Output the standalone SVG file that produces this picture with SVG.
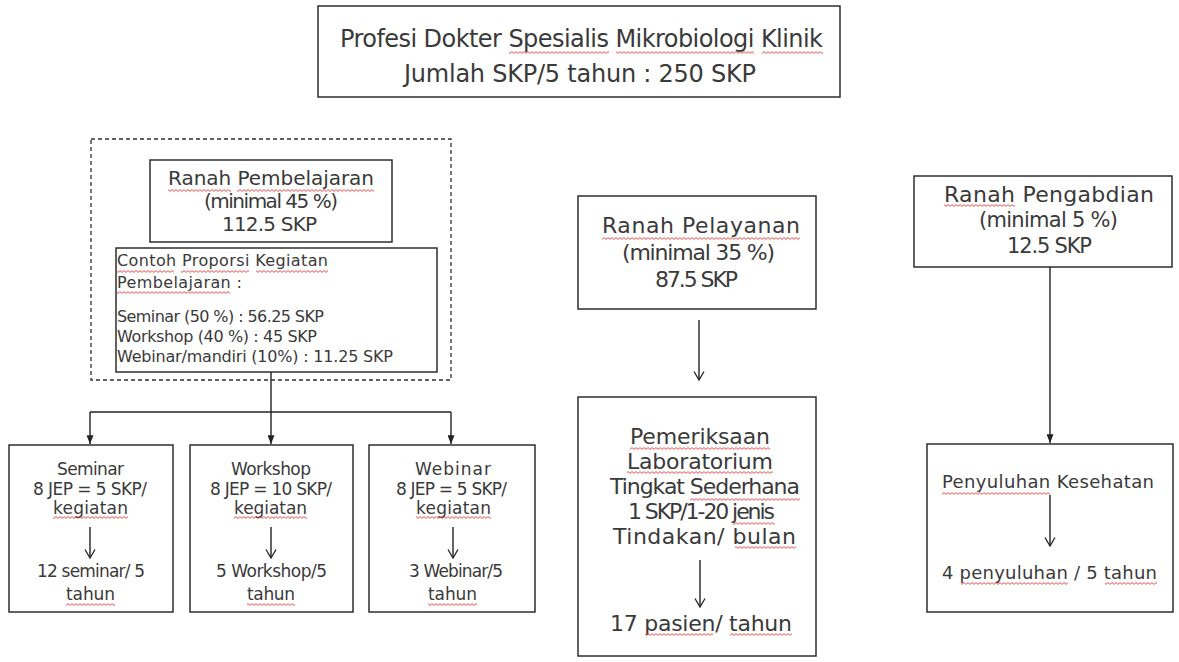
<svg xmlns="http://www.w3.org/2000/svg" width="1179" height="662" viewBox="0 0 1179 662">
<defs>
<style>
.t{font-family:"DejaVu Sans","Liberation Sans",sans-serif;fill:#3a3a3a}
.box{fill:#fff;stroke:#2e2e2e;stroke-width:1.5}
.dash{fill:none;stroke:#2e2e2e;stroke-width:1.3;stroke-dasharray:4 3}
.ln{fill:none;stroke:#222;stroke-width:1.4}
.sq{fill:url(#wv)}
.s24{font-size:24px}.s22{font-size:22px}.s21{font-size:21px}.s20{font-size:20px}.s18{font-size:18px}.s17{font-size:17px}.s16{font-size:16px}
</style>
<pattern id="wv" width="4" height="3" patternUnits="userSpaceOnUse"><path d="M0,0.6 L2,2.4 L4,0.6" fill="none" stroke="#e23a3a" stroke-width="0.9"/></pattern>
<marker id="af" viewBox="0 0 10 8" refX="10" refY="4" markerWidth="9" markerHeight="7" markerUnits="userSpaceOnUse" orient="auto"><path d="M0,0 L10,4 L0,8 z" fill="#222"/></marker>
<marker id="ao" viewBox="0 0 12 12" refX="10.5" refY="6" markerWidth="12" markerHeight="12" markerUnits="userSpaceOnUse" orient="auto"><path d="M2,1 L10.5,6 L2,11" fill="none" stroke="#222" stroke-width="1.3"/></marker>
</defs>
<rect width="1179" height="662" fill="#fff"/>

<g id="title">
<rect class="box" x="318" y="6" width="522" height="91"/>
<text class="t s24" x="340" y="47" textLength="483" lengthAdjust="spacing">Profesi Dokter Spesialis Mikrobiologi Klinik</text>
<text class="t s24" x="404" y="82" textLength="352" lengthAdjust="spacing">Jumlah SKP/5 tahun : 250 SKP</text>
<rect class="sq" x="509" y="51" width="100" height="3"/>
<rect class="sq" x="616" y="51" width="138" height="3"/>
<rect class="sq" x="762" y="51" width="61" height="3"/>
</g>

<g id="pembelajaran-group">
<rect class="dash" x="91" y="139" width="360" height="241"/>
</g>

<g id="ranah-pembelajaran">
<rect class="box" x="150" y="160" width="242" height="82"/>
<text class="t s20" x="168" y="185" textLength="206" lengthAdjust="spacing">Ranah Pembelajaran</text>
<text class="t s20" x="204" y="208" textLength="134" lengthAdjust="spacing">(minimal 45 %)</text>
<text class="t s20" x="222" y="231" textLength="95" lengthAdjust="spacing">112.5 SKP</text>
<rect class="sq" x="168" y="189" width="63" height="3"/>
<rect class="sq" x="237" y="189" width="137" height="3"/>
</g>

<g id="contoh-proporsi">
<rect class="box" x="116" y="248" width="321" height="124"/>
<text class="t s16" x="117" y="266" textLength="211" lengthAdjust="spacing">Contoh Proporsi Kegiatan</text>
<text class="t s16" x="117" y="288" textLength="125" lengthAdjust="spacing">Pembelajaran :</text>
<text class="t s16" x="117" y="322" textLength="207" lengthAdjust="spacing">Seminar (50 %) : 56.25 SKP</text>
<text class="t s16" x="117" y="342" textLength="200" lengthAdjust="spacing">Workshop (40 %) : 45 SKP</text>
<text class="t s16" x="117" y="362" textLength="276" lengthAdjust="spacing">Webinar/mandiri (10%) : 11.25 SKP</text>
<rect class="sq" x="117" y="270" width="57" height="3"/>
<rect class="sq" x="181" y="270" width="68" height="3"/>
<rect class="sq" x="256" y="270" width="72" height="3"/>
<rect class="sq" x="117" y="291" width="113" height="3"/>
</g>

<g id="seminar">
<rect class="box" x="9" y="445" width="164" height="167"/>
<text class="t s17" x="57" y="475" textLength="67" lengthAdjust="spacing">Seminar</text>
<text class="t s17" x="33" y="495" textLength="114" lengthAdjust="spacing">8 JEP = 5 SKP/</text>
<text class="t s17" x="53" y="514" textLength="75" lengthAdjust="spacing">kegiatan</text>
<text class="t s17" x="37" y="577" textLength="108" lengthAdjust="spacing">12 seminar/ 5</text>
<text class="t s17" x="66" y="600" textLength="49" lengthAdjust="spacing">tahun</text>
<rect class="sq" x="53" y="516" width="75" height="3"/>
<rect class="sq" x="66" y="603" width="49" height="3"/>
</g>

<g id="workshop">
<rect class="box" x="190" y="445" width="163" height="167"/>
<text class="t s17" x="231" y="475" textLength="80" lengthAdjust="spacing">Workshop</text>
<text class="t s17" x="210" y="495" textLength="122" lengthAdjust="spacing">8 JEP = 10 SKP/</text>
<text class="t s17" x="234" y="514" textLength="73" lengthAdjust="spacing">kegiatan</text>
<text class="t s17" x="216" y="577" textLength="111" lengthAdjust="spacing">5 Workshop/5</text>
<text class="t s17" x="247" y="600" textLength="48" lengthAdjust="spacing">tahun</text>
<rect class="sq" x="234" y="516" width="73" height="3"/>
<rect class="sq" x="247" y="603" width="48" height="3"/>
</g>

<g id="webinar">
<rect class="box" x="369" y="445" width="166" height="167"/>
<text class="t s17" x="415" y="475" textLength="76" lengthAdjust="spacing">Webinar</text>
<text class="t s17" x="396" y="495" textLength="111" lengthAdjust="spacing">8 JEP = 5 SKP/</text>
<text class="t s17" x="416" y="514" textLength="75" lengthAdjust="spacing">kegiatan</text>
<text class="t s17" x="409" y="577" textLength="94" lengthAdjust="spacing">3 Webinar/5</text>
<text class="t s17" x="428" y="600" textLength="49" lengthAdjust="spacing">tahun</text>
<rect class="sq" x="416" y="516" width="75" height="3"/>
<rect class="sq" x="428" y="603" width="49" height="3"/>
</g>

<g id="ranah-pelayanan">
<rect class="box" x="578" y="196" width="238" height="113"/>
<text class="t s22" x="602" y="233" textLength="198" lengthAdjust="spacing">Ranah Pelayanan</text>
<text class="t s22" x="622" y="260" textLength="153" lengthAdjust="spacing">(minimal 35 %)</text>
<text class="t s22" x="655" y="287" textLength="83" lengthAdjust="spacing">87.5 SKP</text>
<rect class="sq" x="602" y="237" width="198" height="3"/>
</g>

<g id="pemeriksaan">
<rect class="box" x="578" y="397" width="238" height="259"/>
<text class="t s22" x="630" y="444" textLength="140" lengthAdjust="spacing">Pemeriksaan</text>
<text class="t s22" x="627" y="469" textLength="146" lengthAdjust="spacing">Laboratorium</text>
<text class="t s22" x="610" y="494" textLength="190" lengthAdjust="spacing">Tingkat Sederhana</text>
<text class="t s22" x="628" y="519" textLength="147" lengthAdjust="spacing">1 SKP/1-20 jenis</text>
<text class="t s22" x="613" y="544" textLength="183" lengthAdjust="spacing">Tindakan/ bulan</text>
<text class="t s22" x="610" y="631" textLength="182" lengthAdjust="spacing">17 pasien/ tahun</text>
<rect class="sq" x="630" y="447" width="140" height="3"/>
<rect class="sq" x="627" y="471" width="146" height="3"/>
<rect class="sq" x="690" y="498" width="110" height="3"/>
<rect class="sq" x="733" y="522" width="42" height="3"/>
<rect class="sq" x="735" y="546" width="61" height="3"/>
<rect class="sq" x="645" y="633" width="68" height="3"/>
<rect class="sq" x="730" y="633" width="62" height="3"/>
</g>

<g id="ranah-pengabdian">
<rect class="box" x="914" y="176" width="258" height="91"/>
<text class="t s22" x="944" y="202" textLength="210" lengthAdjust="spacing">Ranah Pengabdian</text>
<text class="t s21" x="979" y="227" textLength="139" lengthAdjust="spacing">(minimal 5 %)</text>
<text class="t s21" x="1007" y="253" textLength="85" lengthAdjust="spacing">12.5 SKP</text>
<rect class="sq" x="944" y="204" width="71" height="3"/>
</g>

<g id="penyuluhan">
<rect class="box" x="927" y="444" width="246" height="168"/>
<text class="t s18" x="942" y="488" textLength="212" lengthAdjust="spacing">Penyuluhan Kesehatan</text>
<text class="t s18" x="942" y="579" textLength="215" lengthAdjust="spacing">4 penyuluhan / 5 tahun</text>
<rect class="sq" x="942" y="492" width="108" height="3"/>
<rect class="sq" x="961" y="582" width="107" height="3"/>
<rect class="sq" x="1105" y="582" width="52" height="3"/>
</g>

<g id="connectors">
<path class="ln" d="M271,372 V444" marker-end="url(#af)"/>
<path class="ln" d="M90,412 H451"/>
<path class="ln" d="M90,412 V444" marker-end="url(#af)"/>
<path class="ln" d="M451,412 V444" marker-end="url(#af)"/>
<path class="ln" d="M90,527 V558" marker-end="url(#ao)"/>
<path class="ln" d="M271,527 V558" marker-end="url(#ao)"/>
<path class="ln" d="M453,527 V558" marker-end="url(#ao)"/>
<path class="ln" d="M699,320 V380" marker-end="url(#ao)"/>
<path class="ln" d="M700,560 V607" marker-end="url(#ao)"/>
<path class="ln" d="M1050,267 V443" marker-end="url(#af)"/>
<path class="ln" d="M1050,495 V546" marker-end="url(#ao)"/>
</g>
</svg>
